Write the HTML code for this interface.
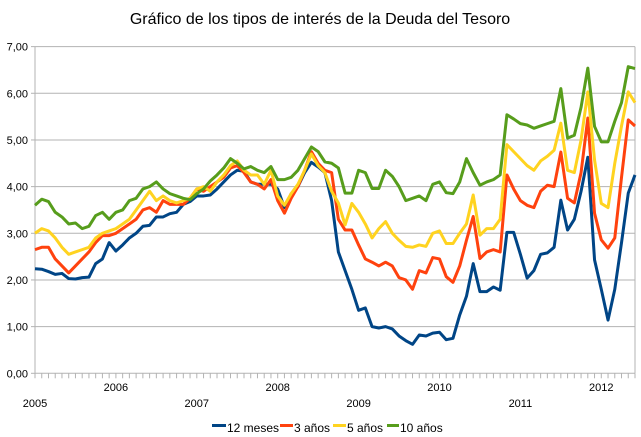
<!DOCTYPE html>
<html><head><meta charset="utf-8"><style>
html,body{margin:0;padding:0;background:#fff;}
svg{display:block;font-family:"Liberation Sans",sans-serif;}
</style></head><body>
<svg id="chart" width="641" height="437" viewBox="0 0 641 437">
<text x="320" y="24" text-anchor="middle" font-size="16" fill="#000">Gráfico de los tipos de interés de la Deuda del Tesoro</text>
<g id="grid"></g>
<g id="axes"></g>
<g id="series"></g>
<g font-size="12">
<g><rect x="212" y="424" width="14" height="3" fill="#004586"/><text x="227" y="432">12 meses</text></g>
<g><rect x="280" y="424" width="13" height="3" fill="#ff420e"/><text x="294" y="432">3 años</text></g>
<g><rect x="333" y="424" width="13" height="3" fill="#ffd320"/><text x="347" y="432">5 años</text></g>
<g><rect x="387" y="424" width="12" height="3" fill="#579d1c"/><text x="400" y="432">10 años</text></g>
</g>
</svg>
<script>
const yTicks=[0,1,2,3,4,5,6,7];
const yearLabels=["2005","2006","2007","2008","2009","2010","2011","2012"];
const seriesNames=["12 meses","3 años","5 años","10 años"];
const m12=[2.24,2.23,2.18,2.12,2.14,2.03,2.02,2.05,2.06,2.35,2.45,2.8,
2.62,2.75,2.9,3.0,3.15,3.17,3.35,3.35,3.42,3.45,3.62,3.68,
3.8,3.8,3.82,3.95,4.1,4.25,4.35,4.33,4.1,4.05,4.05,4.05,
3.95,3.55,3.85,4.0,4.3,4.52,4.42,4.3,3.7,2.6,2.2,1.8,
1.35,1.4,1.0,0.97,1.0,0.95,0.8,0.7,0.62,0.82,0.8,0.86,
0.88,0.72,0.75,1.25,1.65,2.35,1.75,1.75,1.85,1.78,3.02,3.02,
2.55,2.04,2.2,2.55,2.58,2.7,3.71,3.07,3.3,3.9,4.63,2.43,
1.8,1.14,1.8,2.8,3.86,4.25];
const a3=[2.65,2.7,2.7,2.45,2.3,2.15,2.3,2.45,2.6,2.8,2.95,2.95,
3.0,3.1,3.2,3.3,3.5,3.55,3.45,3.7,3.62,3.62,3.62,3.75,
3.95,3.9,4.0,4.1,4.2,4.4,4.45,4.3,4.1,4.05,3.95,4.15,
3.7,3.43,3.75,4.0,4.35,4.75,4.5,4.35,4.3,3.3,3.07,3.07,
2.75,2.45,2.38,2.3,2.38,2.3,2.05,2.0,1.8,2.2,2.15,2.48,
2.45,2.07,1.95,2.3,2.85,3.36,2.46,2.6,2.65,2.6,4.25,3.95,
3.7,3.6,3.55,3.9,4.03,4.0,4.74,3.75,3.65,4.3,5.47,3.43,
2.86,2.68,2.9,4.2,5.43,5.3];
const a5=[3.0,3.1,3.05,2.9,2.7,2.55,2.6,2.65,2.7,2.9,3.0,3.05,
3.1,3.2,3.3,3.5,3.7,3.9,3.7,3.8,3.7,3.65,3.7,3.75,
3.95,4.0,3.9,4.1,4.25,4.45,4.55,4.35,4.25,4.25,4.05,4.35,
3.8,3.6,3.85,4.05,4.35,4.7,4.45,4.3,3.9,3.65,3.18,3.64,
3.45,3.2,2.9,3.1,3.25,3.0,2.85,2.72,2.7,2.75,2.72,3.0,
3.05,2.78,2.78,3.0,3.2,3.82,2.96,3.1,3.1,3.3,4.9,4.75,
4.6,4.45,4.35,4.55,4.65,4.78,5.36,4.35,4.3,5.0,6.03,4.57,
3.64,3.55,4.5,5.3,6.03,5.8];
const a10=[3.6,3.73,3.68,3.45,3.35,3.2,3.22,3.1,3.15,3.38,3.45,3.3,
3.45,3.5,3.7,3.75,3.95,4.0,4.1,3.95,3.85,3.8,3.75,3.72,
3.85,3.95,4.12,4.25,4.4,4.6,4.5,4.38,4.43,4.35,4.3,4.43,
4.15,4.15,4.2,4.35,4.6,4.85,4.75,4.53,4.5,4.4,3.86,3.86,
4.35,4.3,3.96,3.96,4.35,4.22,4.0,3.7,3.75,3.8,3.7,4.05,
4.1,3.87,3.85,4.1,4.6,4.3,4.03,4.1,4.15,4.25,5.54,5.45,
5.35,5.32,5.25,5.3,5.35,5.4,6.1,5.04,5.1,5.7,6.54,5.29,
4.96,4.96,5.4,5.8,6.57,6.53];
const NS="http://www.w3.org/2000/svg";
const X0=35,X1=635,Y0=373.3,YPU=46.67;
const n=m12.length;
function xs(i){return X0+i*(X1-X0)/(n-1);}
function ys(v){return Y0-v*YPU;}
function mk(tag,attrs,parent){const e=document.createElementNS(NS,tag);for(const k in attrs)e.setAttribute(k,attrs[k]);parent.appendChild(e);return e;}
const grid=document.getElementById('grid'),axes=document.getElementById('axes'),ser=document.getElementById('series');
yTicks.forEach(t=>{
  if(t>0){const l=mk('line',{x1:X0,x2:X1,y1:ys(t),y2:ys(t),stroke:'#b3b3b3','stroke-width':1},grid);
  
  }
  const tx=mk('text',{x:28,y:ys(t)+4,'text-anchor':'end','font-size':11,fill:'#000'},axes);
  tx.textContent=t.toFixed(2).replace('.',',');
  
  
  const tk=mk('line',{x1:X0-4,x2:X0,y1:ys(t),y2:ys(t),stroke:'#b3b3b3'},axes);
  
  
});
const ya=mk('line',{x1:X0,x2:X0,y1:ys(7),y2:Y0,stroke:'#b3b3b3'},axes);


const rb=mk('line',{x1:X1,x2:X1,y1:ys(7),y2:Y0,stroke:'#b3b3b3'},axes);


const xa=mk('line',{x1:X0,x2:X1,y1:Y0,y2:Y0,stroke:'#b3b3b3'},axes);


for(let i=0;i<n;i++){
  const tk=mk('line',{x1:xs(i),x2:xs(i),y1:Y0,y2:Y0+5,stroke:'#b3b3b3'},axes);
  
  
}
yearLabels.forEach((y,k)=>{
  const tx=mk('text',{x:xs(k*12),y:(k%2?391:407),'text-anchor':'middle','font-size':11,fill:'#000'},axes);
  tx.textContent=y;
  
  
});
const colors=['#004586','#ff420e','#ffd320','#579d1c'];
const names=['line-12-meses','line-3-anos','line-5-anos','line-10-anos'];
[m12,a3,a5,a10].forEach((arr,s)=>{
  const d=arr.map((v,i)=>(i?'L':'M')+xs(i).toFixed(2)+' '+ys(v).toFixed(2)).join(' ');
  const p=mk('path',{d:d,fill:'none',stroke:colors[s],'stroke-width':3,'stroke-linejoin':'round'},ser);
  
  
});
</script>
</body></html>
